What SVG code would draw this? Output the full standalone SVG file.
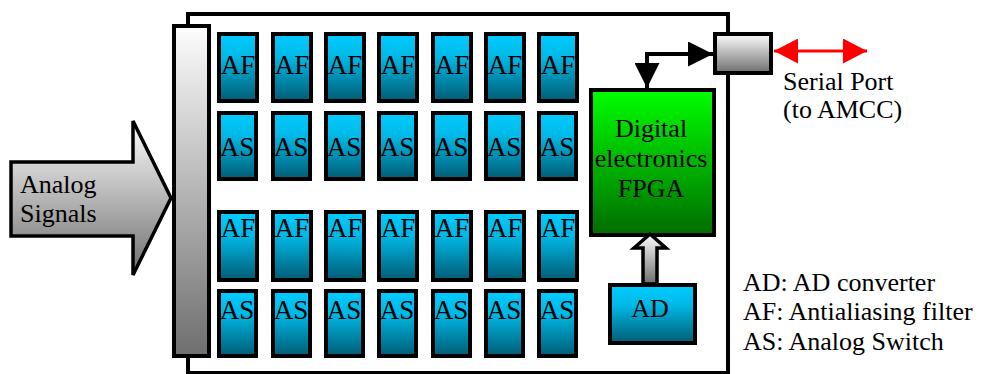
<svg xmlns="http://www.w3.org/2000/svg" width="990" height="374" viewBox="0 0 990 374" font-family="'Liberation Serif', 'DejaVu Serif', serif">
  <defs>
    <linearGradient id="gCyan" x1="0" y1="0" x2="0" y2="1">
      <stop offset="0" stop-color="#00ccff"/>
      <stop offset="0.35" stop-color="#00b8e6"/>
      <stop offset="1" stop-color="#005c74"/>
    </linearGradient>
    <linearGradient id="gGreen" x1="0" y1="0" x2="0" y2="1">
      <stop offset="0" stop-color="#00ff00"/>
      <stop offset="1" stop-color="#006c00"/>
    </linearGradient>
    <linearGradient id="gGrey" x1="0" y1="0" x2="0" y2="1">
      <stop offset="0" stop-color="#fdfdfd"/>
      <stop offset="1" stop-color="#6e6e6e"/>
    </linearGradient>
    <marker id="mBlack" viewBox="0 0 25 25" refX="25" refY="12.5" markerWidth="25" markerHeight="25" markerUnits="userSpaceOnUse" orient="auto-start-reverse">
      <path d="M0,0 L25,12.5 L0,25 Z" fill="#000"/>
    </marker>
    <marker id="mRed" viewBox="0 0 24 25" refX="24" refY="12.5" markerWidth="24" markerHeight="25" markerUnits="userSpaceOnUse" orient="auto-start-reverse">
      <path d="M0,0 L24,12.5 L0,25 Z" fill="#ff0000"/>
    </marker>
  </defs>
  <style>
    text { font-family: "Liberation Serif", "DejaVu Serif", serif; fill: #000; }
    .chip { fill: url(#gCyan); stroke: #000; stroke-width: 4; }
    .chip-lbl { font-size: 27px; text-anchor: middle; }
    .lbl { font-size: 26px; }
    .ctr { text-anchor: middle; }
  </style>

  <!-- acquisition board outline -->
  <g id="board">
    <rect x="188" y="14" width="540" height="359" fill="#fff" stroke="#000" stroke-width="4"/>
  </g>

  <!-- analog input bus -->
  <g id="input-bus">
    <rect x="174" y="26" width="35" height="330" fill="url(#gGrey)" stroke="#000" stroke-width="4"/>
  </g>

  <!-- incoming analog signals -->
  <g id="analog-signals">
    <polygon points="11,162 133,162 133,121 171,198 133,275 133,236 11,236" fill="url(#gGrey)" stroke="#000" stroke-width="3.5" stroke-linejoin="miter"/>
    <text class="lbl" x="20" y="193">Analog</text>
    <text class="lbl" x="20" y="222">Signals</text>
  </g>

  <!-- channel chips: antialiasing filters (AF) and analog switches (AS) -->
  <g id="af-row1">
    <rect class="chip" x="219" y="34" width="38" height="67"/><text class="chip-lbl" x="238" y="74">AF</text>
    <rect class="chip" x="273" y="34" width="38" height="67"/><text class="chip-lbl" x="292" y="74">AF</text>
    <rect class="chip" x="326" y="34" width="38" height="67"/><text class="chip-lbl" x="345" y="74">AF</text>
    <rect class="chip" x="379" y="34" width="38" height="67"/><text class="chip-lbl" x="398" y="74">AF</text>
    <rect class="chip" x="433" y="34" width="38" height="67"/><text class="chip-lbl" x="452" y="74">AF</text>
    <rect class="chip" x="486" y="34" width="38" height="67"/><text class="chip-lbl" x="505" y="74">AF</text>
    <rect class="chip" x="539" y="34" width="38" height="67"/><text class="chip-lbl" x="558" y="74">AF</text>
  </g>
  <g id="as-row1">
    <rect class="chip" x="219" y="113" width="37" height="66"/><text class="chip-lbl" x="237" y="156">AS</text>
    <rect class="chip" x="273" y="113" width="37" height="66"/><text class="chip-lbl" x="291" y="156">AS</text>
    <rect class="chip" x="326" y="113" width="37" height="66"/><text class="chip-lbl" x="344" y="156">AS</text>
    <rect class="chip" x="379" y="113" width="37" height="66"/><text class="chip-lbl" x="397" y="156">AS</text>
    <rect class="chip" x="433" y="113" width="37" height="66"/><text class="chip-lbl" x="451" y="156">AS</text>
    <rect class="chip" x="486" y="113" width="37" height="66"/><text class="chip-lbl" x="504" y="156">AS</text>
    <rect class="chip" x="539" y="113" width="37" height="66"/><text class="chip-lbl" x="557" y="156">AS</text>
  </g>
  <g id="af-row2">
    <rect class="chip" x="219" y="212" width="38" height="68"/><text class="chip-lbl" x="238" y="237">AF</text>
    <rect class="chip" x="273" y="212" width="38" height="68"/><text class="chip-lbl" x="292" y="237">AF</text>
    <rect class="chip" x="326" y="212" width="38" height="68"/><text class="chip-lbl" x="345" y="237">AF</text>
    <rect class="chip" x="379" y="212" width="38" height="68"/><text class="chip-lbl" x="398" y="237">AF</text>
    <rect class="chip" x="433" y="212" width="38" height="68"/><text class="chip-lbl" x="452" y="237">AF</text>
    <rect class="chip" x="486" y="212" width="38" height="68"/><text class="chip-lbl" x="505" y="237">AF</text>
    <rect class="chip" x="539" y="212" width="38" height="68"/><text class="chip-lbl" x="558" y="237">AF</text>
  </g>
  <g id="as-row2">
    <rect class="chip" x="219" y="291" width="37" height="65"/><text class="chip-lbl" x="237" y="319">AS</text>
    <rect class="chip" x="273" y="291" width="37" height="65"/><text class="chip-lbl" x="291" y="319">AS</text>
    <rect class="chip" x="326" y="291" width="37" height="65"/><text class="chip-lbl" x="344" y="319">AS</text>
    <rect class="chip" x="379" y="291" width="37" height="65"/><text class="chip-lbl" x="397" y="319">AS</text>
    <rect class="chip" x="433" y="291" width="37" height="65"/><text class="chip-lbl" x="451" y="319">AS</text>
    <rect class="chip" x="486" y="291" width="37" height="65"/><text class="chip-lbl" x="504" y="319">AS</text>
    <rect class="chip" x="539" y="291" width="37" height="65"/><text class="chip-lbl" x="557" y="319">AS</text>
  </g>

  <!-- digital electronics -->
  <g id="fpga">
    <rect x="591" y="90" width="123" height="145" fill="url(#gGreen)" stroke="#000" stroke-width="4"/>
    <text class="lbl ctr" x="651" y="137">Digital</text>
    <text class="lbl ctr" x="651" y="167">electronics</text>
    <text class="lbl ctr" x="651" y="197">FPGA</text>
  </g>

  <!-- AD converter -->
  <g id="ad">
    <rect x="610" y="285" width="85" height="58" fill="url(#gCyan)" stroke="#000" stroke-width="4"/>
    <text class="lbl ctr" x="650" y="317">AD</text>
  </g>

  <!-- serial port connector -->
  <g id="serial-port">
    <rect x="715" y="34" width="56" height="39" fill="url(#gGrey)" stroke="#000" stroke-width="4"/>
    <text class="lbl" x="783" y="90">Serial Port</text>
    <text class="lbl" x="783" y="118">(to AMCC)</text>
  </g>

  <!-- legend -->
  <g id="legend">
    <text class="lbl" x="743" y="291">AD: AD converter</text>
    <text class="lbl" x="743" y="320">AF: Antialiasing filter</text>
    <text class="lbl" x="743" y="350">AS: Analog Switch</text>
  </g>

  <!-- connectors -->
  <g id="connectors">
    <path d="M713,54 H647 V88" fill="none" stroke="#000" stroke-width="4" marker-start="url(#mBlack)" marker-end="url(#mBlack)"/>
    <path d="M774,51 H867" fill="none" stroke="#ff0000" stroke-width="3" marker-start="url(#mRed)" marker-end="url(#mRed)"/>
    <polygon points="643,284 643,248 634,248 650,234 666,248 657,248 657,284" fill="url(#gGrey)" stroke="#000" stroke-width="3.5"/>
  </g>
</svg>
